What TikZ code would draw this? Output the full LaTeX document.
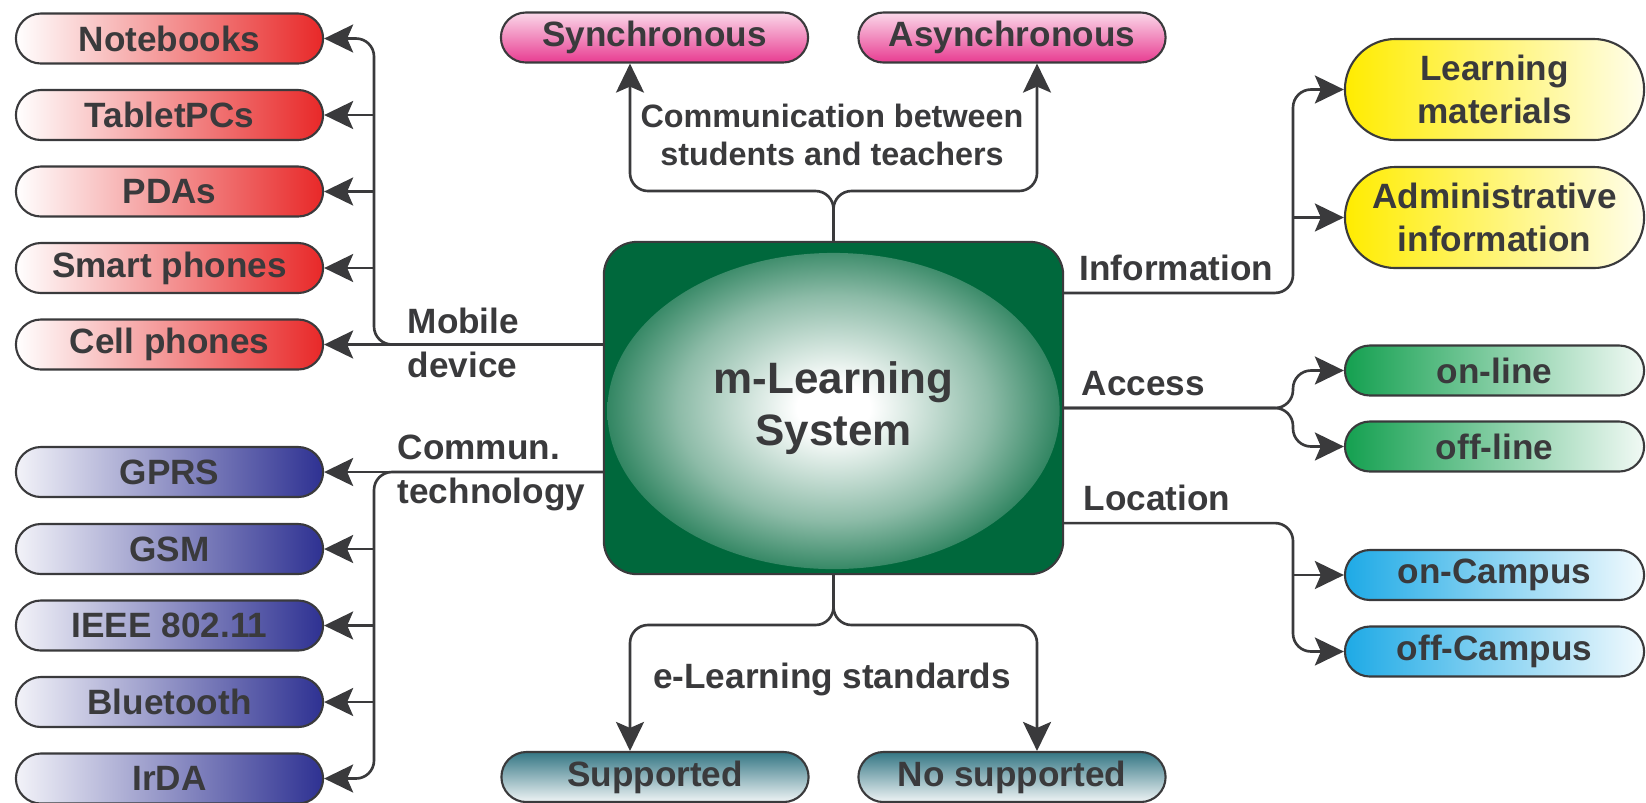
\documentclass[tikz,border=0pt]{standalone}
\usepackage{fontspec}
\setmainfont{Liberation Sans}
\usetikzlibrary{arrows.meta,shapes.misc,calc}

\definecolor{ink}{RGB}{58,58,60}
\definecolor{sysgreen}{RGB}{0,104,60}
\colorlet{sysmid}{sysgreen!45!white}
\colorlet{sysrim}{sysgreen!82!white}
\definecolor{devred}{RGB}{232,40,40}
\definecolor{techblue}{RGB}{46,49,146}
\definecolor{commpink}{RGB}{232,60,145}
\definecolor{infoyellow}{RGB}{255,236,0}
\definecolor{accgreen}{RGB}{20,160,80}
\definecolor{loccyan}{RGB}{30,170,230}
\definecolor{stdteal}{RGB}{52,118,132}

\pgfdeclareradialshading{sysglow}{\pgfpoint{0bp}{0bp}}{color(0bp)=(white); color(4bp)=(white); color(17bp)=(sysmid); color(25bp)=(sysrim); color(50bp)=(sysgreen)}

\tikzset{
  conn/.style={draw=ink, line width=0.75pt, rounded corners=0.18cm,
    -{Stealth[length=0.29cm,width=0.28cm,inset=0.06cm]}},
  pill/.style={rounded rectangle, draw=ink, line width=0.6pt, minimum width=3.07cm,
    minimum height=0.5cm, inner sep=0pt, text=ink, font=\fontsize{10}{12}\selectfont\bfseries},
  sidepill/.style={pill, minimum width=2.99cm},
  twoline/.style={sidepill, minimum height=1.01cm, align=center},
  device/.style={pill, left color=white, right color=devred},
  tech/.style={pill, left color=techblue!6, right color=techblue},
  commtype/.style={pill, top color=commpink!20, bottom color=commpink},
  infotype/.style={twoline, left color=infoyellow, right color=infoyellow!8},
  acctype/.style={sidepill, left color=accgreen, right color=accgreen!6},
  loctype/.style={sidepill, left color=loccyan, right color=loccyan!6},
  stdtype/.style={pill, top color=stdteal, bottom color=stdteal!8},
  lbl/.style={text=ink, inner sep=0pt, font=\fontsize{10}{12.5}\selectfont\bfseries}
}

\begin{document}
\begin{tikzpicture}[x=0.01cm,y=-0.01cm]
\useasboundingbox (0,0) rectangle (1646,802);

\node[draw=ink, line width=0.6pt, fill=sysgreen, rounded corners=0.33cm,
  minimum width=4.59cm, minimum height=3.32cm, align=center, text=ink,
  font=\fontsize{12.5}{15}\selectfont\bfseries,
  path picture={\shade[shading=sysglow] ([yshift=-0.03cm]path picture bounding box.center)
    ellipse [x radius=2.26cm, y radius=1.58cm];}] (sys) at (833.5,408) {m-Learning\\System};

\node[device] (note) at (169.5,38.5) {Notebooks};
\node[device] (tab) at (169.5,115) {TabletPCs};
\node[device] (pda) at (169.5,191.5) {PDAs};
\node[device] (smart) at (169.5,268) {Smart phones};
\node[device] (cell) at (169.5,344.5) {Cell phones};

\node[tech] (gprs) at (169.5,472) {GPRS};
\node[tech] (gsm) at (169.5,549) {GSM};
\node[tech] (ieee) at (169.5,625.5) {IEEE 802.11};
\node[tech] (blue) at (169.5,702) {Bluetooth};
\node[tech] (irda) at (169.5,778.5) {IrDA};

\node[commtype] (sync) at (654.5,37.5) {Synchronous};
\node[commtype] (async) at (1012,37.5) {Asynchronous};

\node[stdtype] (supp) at (655,777) {Supported};
\node[stdtype] (nosupp) at (1012,777) {No supported};

\node[infotype] (learn) at (1494.5,89.5) {Learning\\materials};
\node[infotype] (admin) at (1494.5,217.5) {Administrative\\information};
\node[acctype] (online) at (1494.5,370.5) {on-line};
\node[acctype] (offline) at (1494.5,446.5) {off-line};
\node[loctype] (oncamp) at (1494.5,575) {on-Campus};
\node[loctype] (offcamp) at (1494.5,651.5) {off-Campus};

\coordinate (trunkL) at (374,0);
\coordinate (trunkR) at (1293,0);
\coordinate (topfork) at (0,191);
\coordinate (botfork) at (0,625);
\coordinate (info) at ([yshift=1.15cm]sys.east);
\coordinate (loc) at ([yshift=-1.15cm]sys.east);

\draw[conn] (sys.west |- cell.east) -- (cell.east);
\draw[conn] (sys.west |- cell.east) -- (trunkL |- cell.east) -- (trunkL |- note.east) -- (note.east);
\foreach \n in {tab,pda,smart}
  \draw[conn] (trunkL |- \n.east) -- (\n.east);

\draw[conn] (sys.west |- gprs.east) -- (gprs.east);
\draw[conn] (sys.west |- gprs.east) -- (trunkL |- gprs.east) -- (trunkL |- irda.east) -- (irda.east);
\foreach \n in {gsm,ieee,blue}
  \draw[conn] (trunkL |- \n.east) -- (\n.east);

\draw[conn] (sys.north) -- (sys.north |- topfork) -| ([xshift=-0.245cm]sync.south);
\draw[conn] (sys.north) -- (sys.north |- topfork) -| ([xshift=0.25cm]async.south);

\draw[conn] (sys.south) -- (sys.south |- botfork) -| ([xshift=-0.25cm]supp.north);
\draw[conn] (sys.south) -- (sys.south |- botfork) -| ([xshift=0.25cm]nosupp.north);

\draw[conn] (info) -- (trunkR |- info) -- (trunkR |- learn.west) -- (learn.west);
\draw[conn] (trunkR |- admin.west) -- (admin.west);

\draw[conn] (sys.east) -- (trunkR |- sys.east) -- (trunkR |- online.west) -- (online.west);
\draw[conn] (sys.east) -- (trunkR |- sys.east) -- (trunkR |- offline.west) -- (offline.west);

\draw[conn] (loc) -- (trunkR |- loc) -- (trunkR |- offcamp.west) -- (offcamp.west);
\draw[conn] (trunkR |- oncamp.west) -- (oncamp.west);

\node[lbl, align=left, anchor=west] at (407,343) {Mobile\\device};
\node[lbl, align=left, anchor=west] at (397,473) {Commun.\\technology};
\node[lbl, align=center, font=\fontsize{9.2}{11}\selectfont\bfseries] at (832,135) {Communication between\\students and teachers};
\node[lbl] at (832,679) {e-Learning standards};
\node[lbl, anchor=base west] at (1079,280) {Information};
\node[lbl, anchor=base west] at (1081,395) {Access};
\node[lbl, anchor=base west] at (1083,510) {Location};
\end{tikzpicture}
\end{document}
